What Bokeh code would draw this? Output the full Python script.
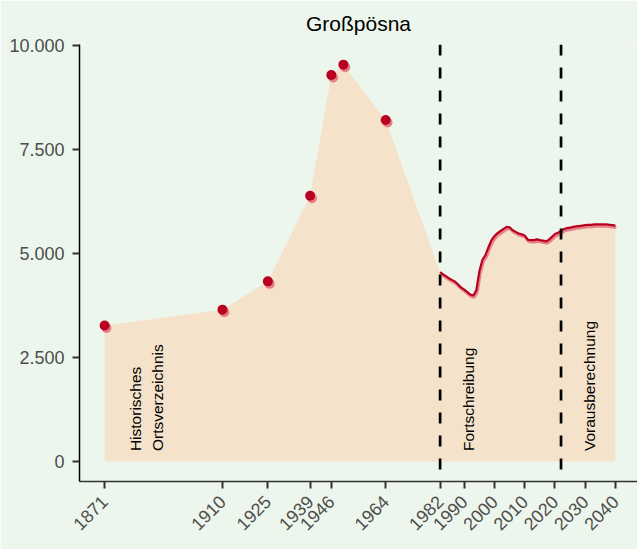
import math
from bokeh.plotting import figure
from bokeh.models import Range1d, FixedTicker, Span
from bokeh.core.properties import value
from bokeh.embed import file_html
from bokeh.resources import INLINE

# ---- data ----
title_text = "Großpösna"
hist_years = [1871, 1910, 1925, 1939, 1946, 1950, 1964]
hist_pop = [3270, 3650, 4330, 6390, 9290, 9540, 8210]

cont_years = list(range(1982, 2041))
cont_pop = [4550, 4500, 4450, 4400, 4360, 4320, 4250, 4180, 4130, 4070,
            4010, 3990, 4120, 4580, 4850, 4960, 5150, 5320, 5420, 5490,
            5540, 5590, 5640, 5630, 5560, 5520, 5480, 5460, 5430, 5330,
            5320, 5320, 5340, 5320, 5310, 5290, 5330, 5400, 5470, 5500,
            5540, 5590, 5610, 5620, 5640, 5650, 5660, 5670, 5680, 5690,
            5690, 5700, 5700, 5700, 5700, 5700, 5690, 5680, 5670]

break_years = [1982, 2022]
x_ticks = [1871, 1910, 1925, 1939, 1946, 1964, 1982, 1990, 2000, 2010, 2020, 2030, 2040]
y_ticks = [0, 2500, 5000, 7500, 10000]
y_tick_labels = ["0", "2.500", "5.000", "7.500", "10.000"]
section_labels = ["Historisches\nOrtsverzeichnis", "Fortschreibung", "Vorausberechnung"]
section_x = [1885, 1991.5, 2031.5]

# ---- style ----
BG = "#EDF6EC"
AREA = "#F5E2CB"
DARK = "#BA0020"
LIGHT = "#E46A78"
FONT = "Liberation Sans"

p = figure(width=637, height=549, output_backend="svg", toolbar_location=None,
           x_range=Range1d(1862.7, 2047.3), y_range=Range1d(-481, 10024),
           min_border_left=79, min_border_right=0, min_border_top=44, min_border_bottom=68)
p.background_fill_color = BG
p.border_fill_color = BG
p.outline_line_color = None
p.grid.visible = False

p.title.text = title_text
p.title.align = "center"
p.title.text_font = FONT
p.title.text_font_size = "21px"
p.title.text_font_style = "normal"
p.title.text_color = "black"
p.title.standoff = 19

# area
all_years = hist_years + cont_years
all_pop = hist_pop + cont_pop
p.varea(x=all_years, y1=[0] * len(all_years), y2=all_pop, fill_color=AREA)

# continuous line with soft shadow beneath
p.line(x=[y + 0.3 for y in cont_years], y=[v - 45 for v in cont_pop],
       line_color=LIGHT, line_width=3, line_alpha=0.8)
p.line(x=cont_years, y=cont_pop, line_color=DARK, line_width=2.2)

# points with lighter shadow beneath
p.scatter(x=[y + 0.6 for y in hist_years], y=[v - 60 for v in hist_pop], size=10,
          fill_color=LIGHT, fill_alpha=0.85, line_color=None)
p.scatter(x=hist_years, y=hist_pop, size=10, fill_color=DARK, line_color=None)

# dashed breaks
for b in break_years:
    p.add_layout(Span(location=b, dimension="height", line_color="black",
                      line_width=2.7, line_dash="11 12"))

# section labels
p.text(x=section_x, y=[250] * 3, text=section_labels, angle=math.pi / 2,
       text_align="left", text_baseline="middle", text_font=value(FONT),
       text_font_size="15.5px", text_color="black", text_line_height=1.3)

# axes
xa = p.xaxis[0]
xa.ticker = FixedTicker(ticks=x_ticks)
xa.major_label_orientation = math.pi / 4
xa.axis_line_color = "#333333"
xa.axis_line_width = 1.5
xa.major_tick_line_color = "#333333"
xa.major_tick_line_width = 2
xa.major_tick_out = 7
xa.major_tick_in = 0
xa.minor_tick_line_color = None
xa.major_label_text_font = FONT
xa.major_label_text_font_size = "18px"
xa.major_label_text_color = "#4D4D4D"
xa.major_label_standoff = 10

ya = p.yaxis[0]
ya.ticker = FixedTicker(ticks=y_ticks)
ya.major_label_overrides = {t: l for t, l in zip(y_ticks, y_tick_labels)}
ya.axis_line_color = "black"
ya.axis_line_width = 1.5
ya.major_tick_line_color = "#333333"
ya.major_tick_line_width = 2
ya.major_tick_out = 7
ya.major_tick_in = 0
ya.minor_tick_line_color = None
ya.major_label_text_font = FONT
ya.major_label_text_font_size = "18px"
ya.major_label_text_color = "#4D4D4D"
ya.major_label_standoff = 8

open("out.html", "w").write(file_html(p, INLINE))
